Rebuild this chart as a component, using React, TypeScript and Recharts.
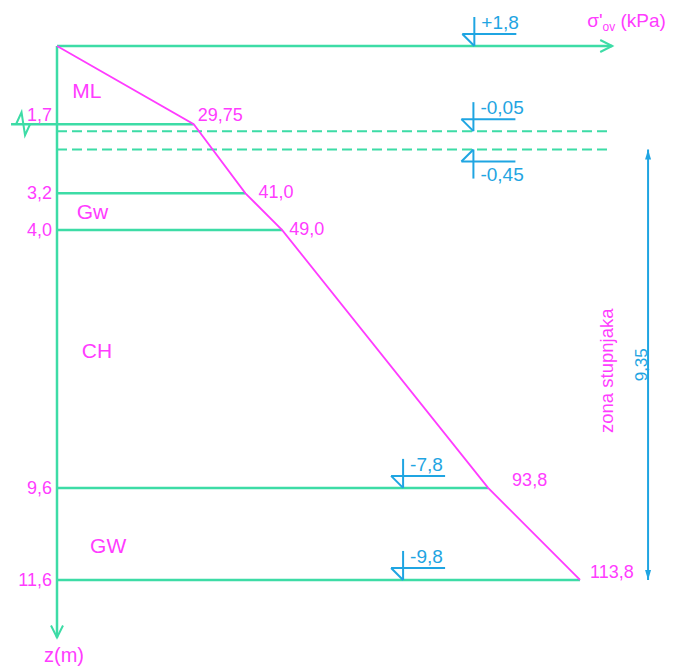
import { ComposedChart, Line, XAxis, YAxis, ReferenceLine, ReferenceDot } from 'recharts';

// profile of effective vertical stress with depth
const depths = [0, 1.7, 3.2, 4.0, 9.6, 11.6];
const stresses = [0, 29.75, 41.0, 49.0, 93.8, 113.8];
const depthLabels = ['', '1,7', '3,2', '4,0', '9,6', '11,6'];
const stressLabels = ['', '29,75', '41,0', '49,0', '93,8', '113,8'];

// soil layers
const soilNames = ['ML', 'Gw', 'CH', 'GW'];
const soilLabelDepths = [1.13, 3.76, 6.78, 11.01];
const soilLabelStress = [3.3, 4.3, 5.4, 7.2];

// water / elevation marks (m a.s.l.)
const groundLevel = 1.8;
const levels = [1.8, -0.05, -0.45, -7.8, -9.8];
const levelLabels = ['+1,8', '-0,05', '-0,45', '-7,8', '-9,8'];
const levelStress = [90.8, 90.6, 90.6, 75.3, 75.3];
const levelFlipped = [false, false, true, false, false];
const dashedLevels = [-0.05, -0.45];

// pile zone dimension
const zoneTop = -0.45;
const zoneBottom = -9.8;
const zoneLabel = '9,35';
const zoneTitle = 'zona stupnjaka';

const GREEN = '#3ddca6';
const MAGENTA = '#ff3cff';
const BLUE = '#1fa5e2';
const FONT = '"Liberation Sans", Arial, sans-serif';

const X_AXIS_END = 120.8;
const Z_AXIS_END = 12.85;
const LINE_END = 120.4;
const BREAK_X = -7.5;
const DIM_X = 128.6;
const TITLE_X = 121.2;

const toDepth = (elev: number) => groundLevel - elev;

const profile = depths.map((z, i) => ({ s: stresses[i], z }));

// offsets (px) for stress labels next to the break points
const stressDx = [0, 4, 13, 7, 24, 10];
const stressDy = [0, -3, 5, 5, -2, -2];
const depthDy = [0, -3, 6, 6, 6, 6];

const Txt = (p: any) => (
  <text
    x={p.cx + (p.dx || 0)}
    y={p.cy + (p.dy || 0)}
    fill={p.fill}
    fontSize={p.size}
    fontFamily={FONT}
    textAnchor={p.anchor || 'start'}
  >
    {p.text}
  </text>
);

const LevelMark = ({ cx, cy, label, flip }: any) => {
  const d = flip ? 1 : -1;
  return (
    <g stroke={BLUE} strokeWidth={2} fill="none">
      <line x1={cx} y1={cy} x2={cx} y2={cy + d * 29} />
      <line x1={cx - 12} y1={cy + d * 12} x2={cx + 42} y2={cy + d * 12} />
      <line x1={cx - 12} y1={cy + d * 12} x2={cx} y2={cy} />
      <text
        x={cx + 7}
        y={flip ? cy + 31 : cy - 17}
        fill={BLUE}
        stroke="none"
        fontSize={19}
        fontFamily={FONT}
      >
        {label}
      </text>
    </g>
  );
};

export default function App() {
  return (
    <div style={{ position: 'absolute', left: 0, top: 0, background: '#fff' }}>
      <ComposedChart
        width={675}
        height={669}
        data={profile}
        margin={{ top: 22.985, right: 20.5, bottom: 1.6, left: 1.85 }}
      >
        <XAxis dataKey="s" type="number" domain={[-12, 130]} hide allowDataOverflow />
        <YAxis type="number" domain={[-0.5, 13.5]} reversed hide allowDataOverflow />

        {/* axes */}
        <ReferenceLine
          ifOverflow="visible"
          segment={[{ x: 0, y: 0 }, { x: X_AXIS_END, y: 0 }]}
          stroke={GREEN}
          strokeWidth={2.5}
        />
        <ReferenceLine
          ifOverflow="visible"
          segment={[{ x: 0, y: 0 }, { x: 0, y: Z_AXIS_END }]}
          stroke={GREEN}
          strokeWidth={2.5}
        />
        <ReferenceDot
          x={X_AXIS_END}
          y={0}
          ifOverflow="visible"
          shape={(p: any) => (
            <polyline
              points={`${p.cx - 12},${p.cy - 6} ${p.cx},${p.cy} ${p.cx - 12},${p.cy + 6}`}
              stroke={GREEN}
              strokeWidth={2}
              fill="none"
            />
          )}
        />
        <ReferenceDot
          x={0}
          y={Z_AXIS_END}
          ifOverflow="visible"
          shape={(p: any) => (
            <polyline
              points={`${p.cx - 6},${p.cy - 12} ${p.cx},${p.cy} ${p.cx + 6},${p.cy - 12}`}
              stroke={GREEN}
              strokeWidth={2}
              fill="none"
            />
          )}
        />

        {/* layer boundaries */}
        {depths.slice(1).map((z, i) => (
          <ReferenceLine
            key={`layer-${z}`}
            ifOverflow="visible"
            segment={[{ x: i === 0 ? -10 : 0, y: z }, { x: stresses[i + 1], y: z }]}
            stroke={GREEN}
            strokeWidth={2.5}
          />
        ))}
        <ReferenceDot
          x={BREAK_X}
          y={depths[1]}
          ifOverflow="visible"
          shape={(p: any) => (
            <polyline
              points={`${p.cx - 6.5},${p.cy} ${p.cx - 1},${p.cy - 12} ${p.cx + 2.5},${p.cy + 11} ${p.cx + 7.5},${p.cy}`}
              stroke={GREEN}
              strokeWidth={2}
              fill="none"
            />
          )}
        />

        {/* water levels */}
        {dashedLevels.map((e) => (
          <ReferenceLine
            key={`dash-${e}`}
            ifOverflow="visible"
            segment={[{ x: 0, y: toDepth(e) }, { x: LINE_END, y: toDepth(e) }]}
            stroke={GREEN}
            strokeWidth={2}
            strokeDasharray="10 5"
          />
        ))}

        <Line
          dataKey="z"
          stroke={MAGENTA}
          strokeWidth={1.8}
          dot={false}
          activeDot={false}
          isAnimationActive={false}
        />

        {/* depth labels on z axis */}
        {depths.map((z, i) =>
          depthLabels[i] ? (
            <ReferenceDot
              key={`dl-${i}`}
              x={0}
              y={z}
              ifOverflow="visible"
              shape={(p: any) => (
                <Txt {...p} dx={-5} dy={depthDy[i]} text={depthLabels[i]} fill={MAGENTA} size={18} anchor="end" />
              )}
            />
          ) : null
        )}
        {/* stress labels */}
        {depths.map((z, i) =>
          stressLabels[i] ? (
            <ReferenceDot
              key={`sl-${i}`}
              x={stresses[i]}
              y={z}
              ifOverflow="visible"
              shape={(p: any) => (
                <Txt {...p} dx={stressDx[i]} dy={stressDy[i]} text={stressLabels[i]} fill={MAGENTA} size={18} />
              )}
            />
          ) : null
        )}
        {/* soil names */}
        {soilNames.map((n, i) => (
          <ReferenceDot
            key={`soil-${n}`}
            x={soilLabelStress[i]}
            y={soilLabelDepths[i]}
            ifOverflow="visible"
            shape={(p: any) => <Txt {...p} text={n} fill={MAGENTA} size={21} />}
          />
        ))}

        {/* level marks */}
        {levels.map((e, i) => (
          <ReferenceDot
            key={`lvl-${i}`}
            x={levelStress[i]}
            y={toDepth(e)}
            ifOverflow="visible"
            shape={(p: any) => <LevelMark cx={p.cx} cy={p.cy} label={levelLabels[i]} flip={levelFlipped[i]} />}
          />
        ))}

        {/* zone dimension */}
        <ReferenceLine
          ifOverflow="visible"
          segment={[{ x: DIM_X, y: toDepth(zoneTop) }, { x: DIM_X, y: toDepth(zoneBottom) }]}
          stroke={BLUE}
          strokeWidth={2}
        />
        <ReferenceDot
          x={DIM_X}
          y={toDepth(zoneTop)}
          ifOverflow="visible"
          shape={(p: any) => (
            <polygon points={`${p.cx},${p.cy} ${p.cx - 3},${p.cy + 10} ${p.cx + 3},${p.cy + 10}`} fill={BLUE} />
          )}
        />
        <ReferenceDot
          x={DIM_X}
          y={toDepth(zoneBottom)}
          ifOverflow="visible"
          shape={(p: any) => (
            <polygon points={`${p.cx},${p.cy} ${p.cx - 3},${p.cy - 10} ${p.cx + 3},${p.cy - 10}`} fill={BLUE} />
          )}
        />
        <ReferenceDot
          x={DIM_X}
          y={(toDepth(zoneTop) + toDepth(zoneBottom)) / 2}
          ifOverflow="visible"
          shape={(p: any) => (
            <text
              x={p.cx - 1}
              y={p.cy}
              transform={`rotate(-90 ${p.cx - 1} ${p.cy})`}
              fill={BLUE}
              fontSize={17}
              fontFamily={FONT}
              textAnchor="middle"
            >
              {zoneLabel}
            </text>
          )}
        />
        <ReferenceDot
          x={TITLE_X}
          y={(toDepth(zoneTop) + toDepth(zoneBottom)) / 2}
          ifOverflow="visible"
          shape={(p: any) => (
            <text
              x={p.cx - 1}
              y={p.cy + 6}
              transform={`rotate(-90 ${p.cx - 1} ${p.cy + 6})`}
              fill={MAGENTA}
              fontSize={18.5}
              fontFamily={FONT}
              textAnchor="middle"
            >
              {zoneTitle}
            </text>
          )}
        />

        {/* axis titles */}
        <ReferenceDot
          x={X_AXIS_END}
          y={0}
          ifOverflow="visible"
          shape={(p: any) => (
            <text x={p.cx - 25} y={p.cy - 19} fill={MAGENTA} fontSize={19} fontFamily={FONT}>
              σ'
              <tspan fontSize={12} dy={4}>ov</tspan>
              <tspan dy={-4}> (kPa)</tspan>
            </text>
          )}
        />
        <ReferenceDot
          x={0}
          y={Z_AXIS_END}
          ifOverflow="visible"
          shape={(p: any) => (
            <text x={p.cx - 13} y={p.cy + 25} fill={MAGENTA} fontSize={20} fontFamily={FONT}>
              z(m)
            </text>
          )}
        />
      </ComposedChart>
    </div>
  );
}
